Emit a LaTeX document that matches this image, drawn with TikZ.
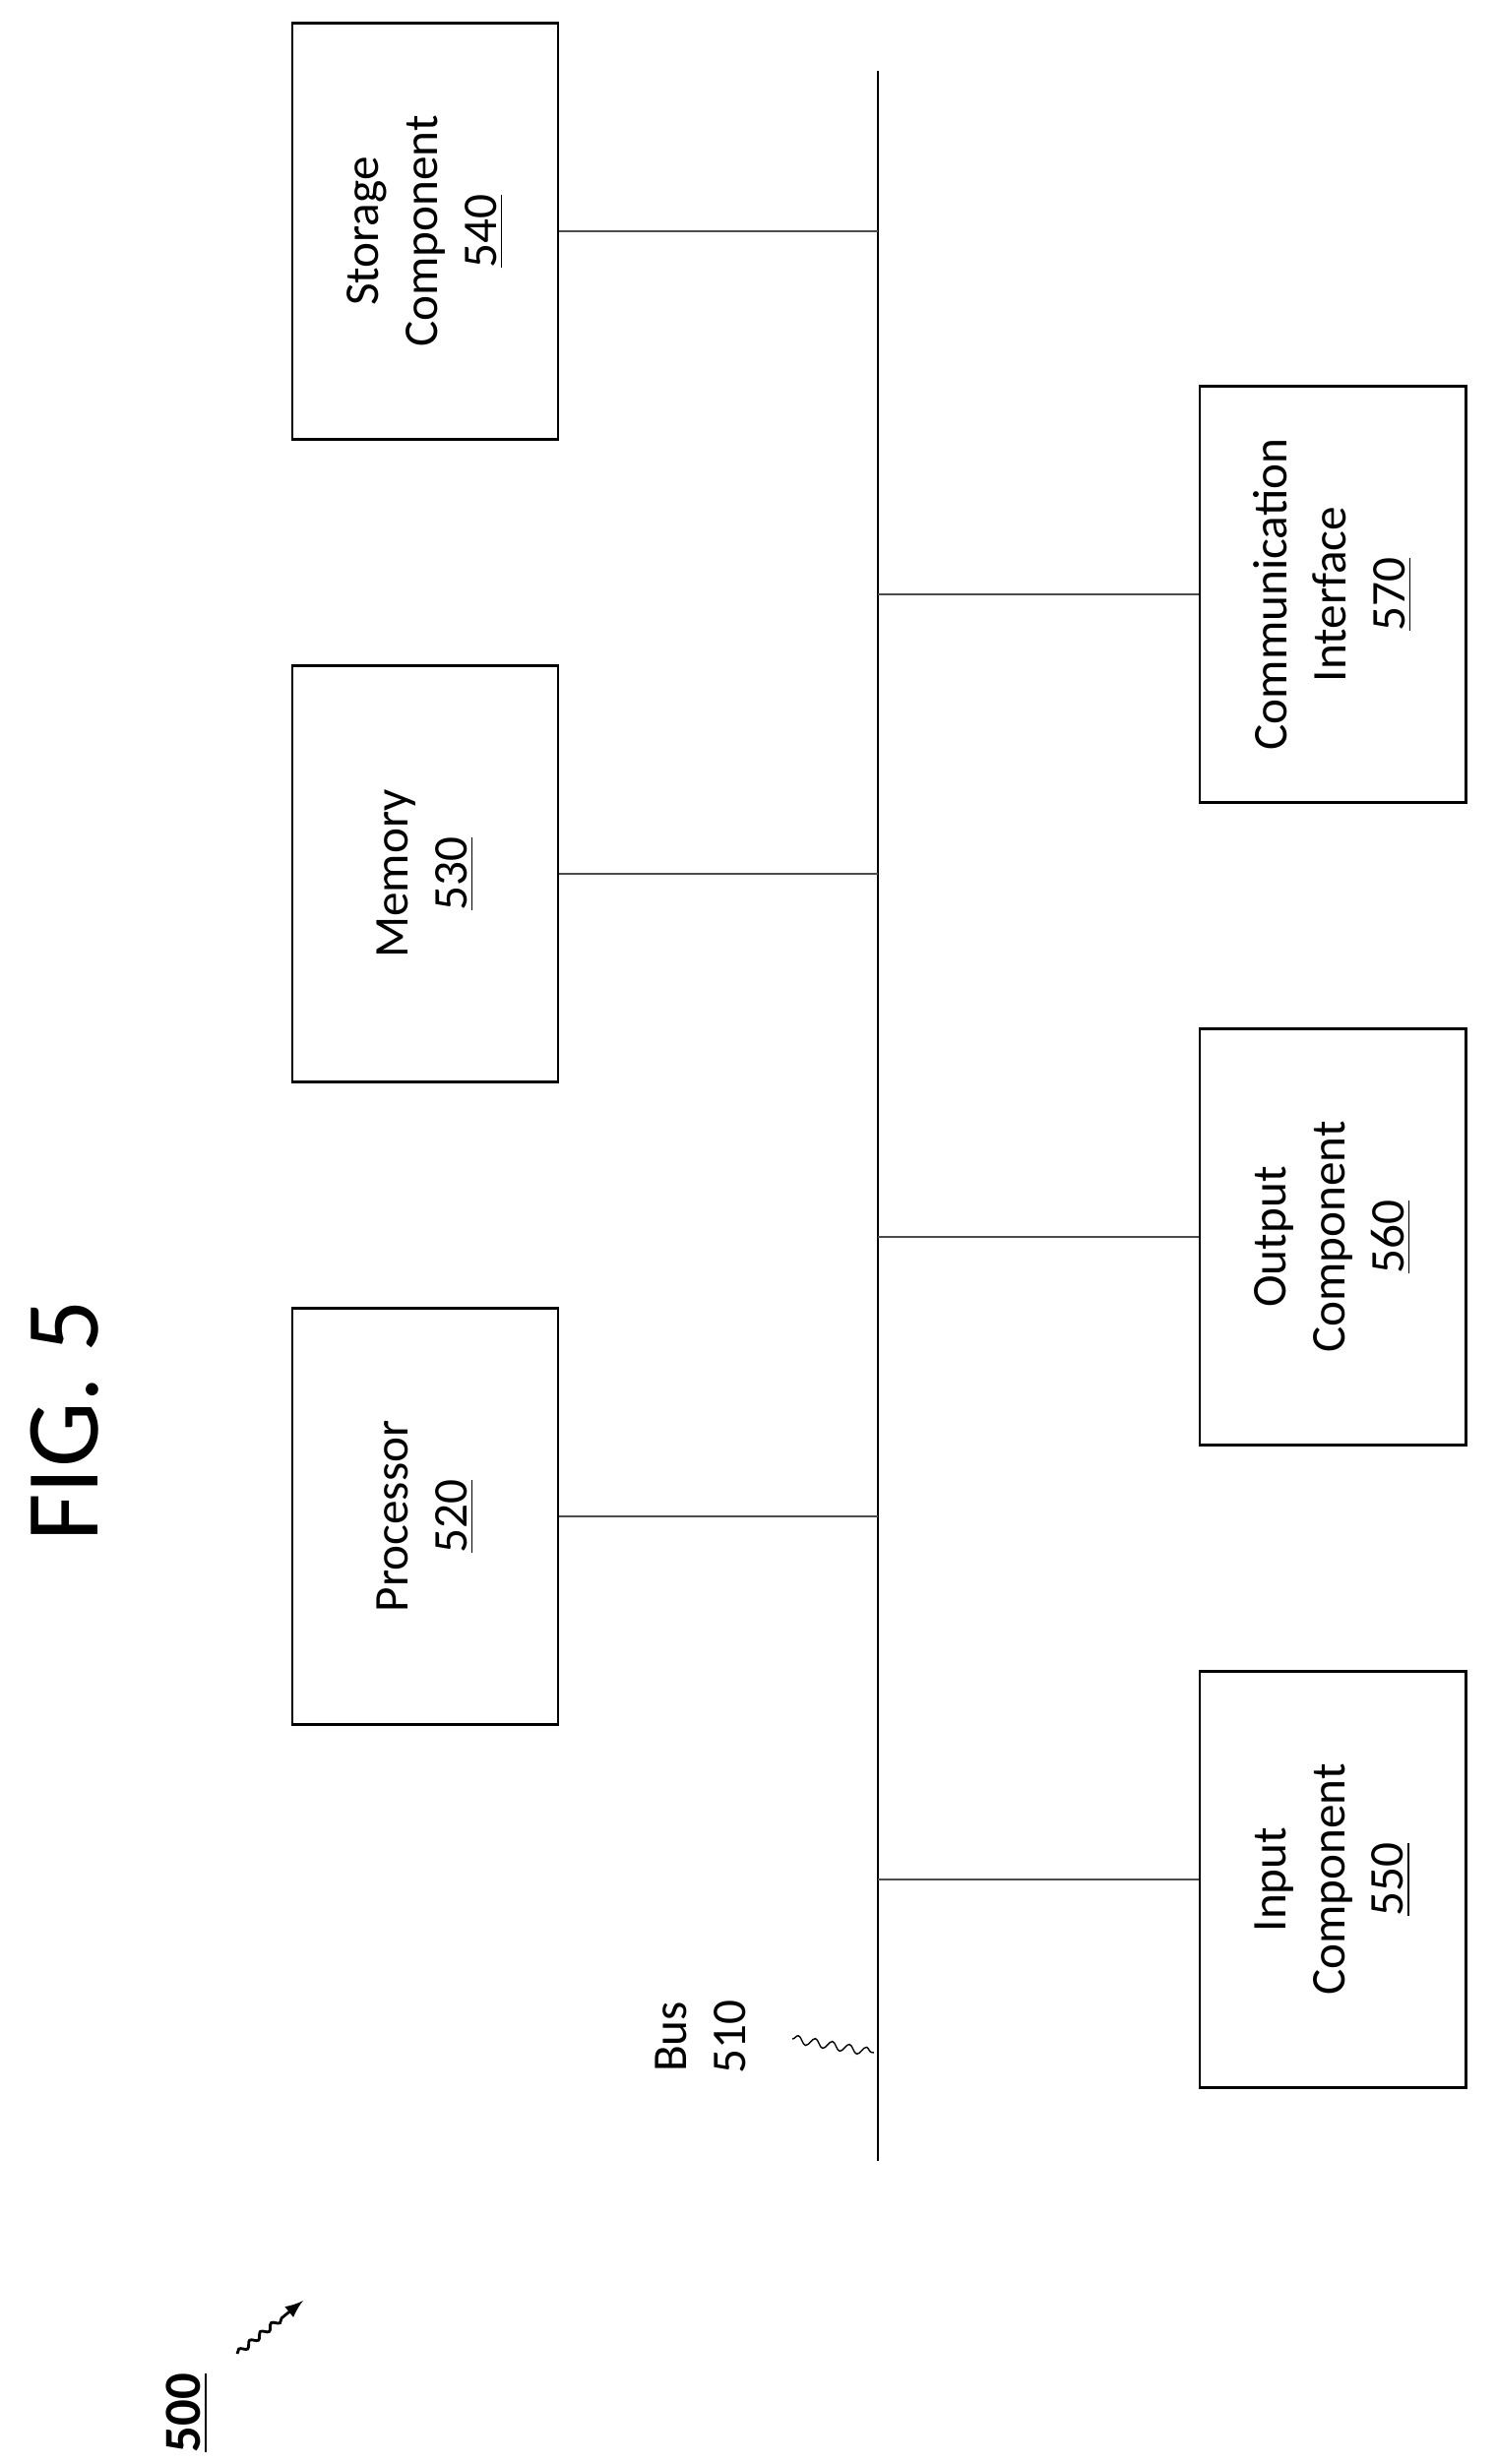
\documentclass[tikz,border=0pt]{standalone}
\usepackage{fontspec}
\setmainfont{Carlito}
\usetikzlibrary{positioning, decorations.pathmorphing}

\begin{document}
\begin{tikzpicture}[x={(0.01cm,0)}, y={(0,-0.01cm)},
    box/.style={draw, thick, minimum width=2.7cm, minimum height=4.22cm, inner sep=0pt},
    lbl/.style={rotate=90, align=center, font=\fontsize{14}{17}\selectfont},
    link/.style={draw=black!70, thin}]
    \useasboundingbox (0,0) rectangle (1520,2504);

    % Bus line
    \coordinate (bustop) at (892,72);
    \coordinate (busbot) at (892,2196);
    \draw[thick] (bustop) -- (busbot);

    % Left column boxes
    \node[box] (stor) at (432,235) {};
    \node[lbl] at (stor) {Storage\\Component\\\underline{540}};
    \node[box] (mem) at (432,888) {};
    \node[lbl] at (mem) {Memory\\\underline{530}};
    \node[box] (proc) at (432,1541) {};
    \node[lbl] at (proc) {Processor\\\underline{520}};

    % Right column boxes
    \node[box] (comm) at (1354,604) {};
    \node[lbl] at (comm) {Communication\\Interface\\\underline{570}};
    \node[box] (out) at (1354,1257) {};
    \node[lbl] at (out) {Output\\Component\\\underline{560}};
    \node[box] (inp) at (1354,1910) {};
    \node[lbl] at (inp) {Input\\Component\\\underline{550}};

    % Connections to the bus
    \foreach \b in {stor, mem, proc}
        \draw[link] (\b.east) -- (\b.east -| bustop);
    \foreach \b in {comm, out, inp}
        \draw[link] (\b.west) -- (\b.west -| bustop);

    % Bus label
    \node[lbl] (buslbl) at (712,2070) {Bus\\510};
    \coordinate (squig) at (805,2072);
    \draw[thin, decorate, decoration={snake, amplitude=1.2pt, segment length=5pt}]
        (squig) -- (888,2086);

    % Title and reference number
    \node[rotate=90, font=\fontsize{30}{36}\selectfont] (fig) at (66,1444) {FIG. 5};
    \node[rotate=90, font=\bfseries\fontsize{15}{18}\selectfont] (ref) at (190,2452) {\underline{500}};
    \coordinate (arrtip) at (308,2338);
    \draw[thick, -latex, decorate, decoration={snake, amplitude=0.8pt, segment length=4pt, post length=6pt}]
        (241,2392) -- (arrtip);
\end{tikzpicture}
\end{document}
